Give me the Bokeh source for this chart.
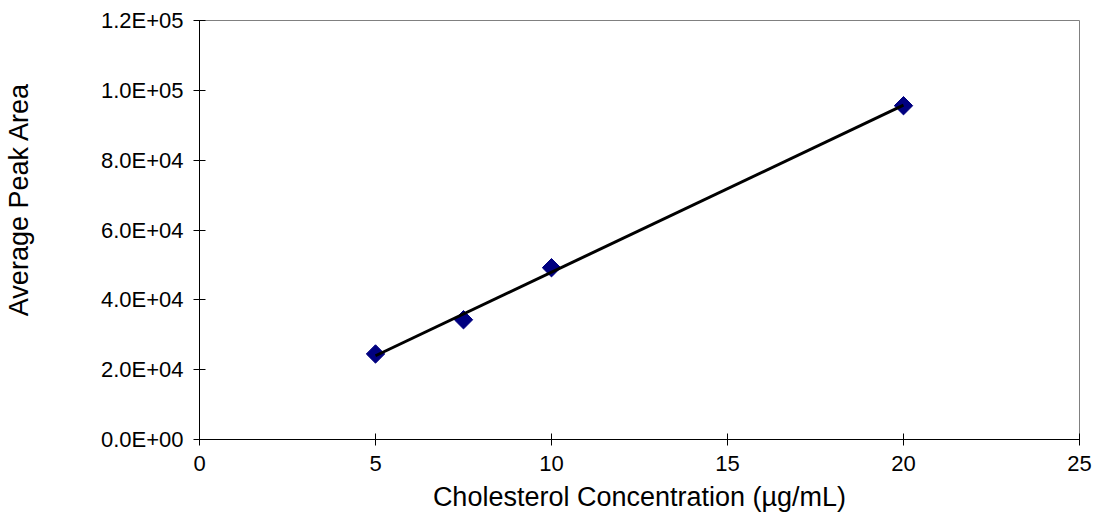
import numpy as np
from bokeh.plotting import figure
from bokeh.models import Range1d, FixedTicker, Title
from bokeh.embed import file_html
from bokeh.resources import INLINE

# Data
concentration = [5.0, 7.5, 10.0, 20.0]
peak_area = [24500, 34300, 49200, 95600]

x_ticks = [0, 5, 10, 15, 20, 25]
y_ticks = [0, 20000, 40000, 60000, 80000, 100000, 120000]
y_tick_labels = ["0.0E+00", "2.0E+04", "4.0E+04", "6.0E+04", "8.0E+04", "1.0E+05", "1.2E+05"]

x_title = "Cholesterol Concentration (µg/mL)"
y_title = "Average Peak Area"

# linear trendline from data
slope, intercept = np.polyfit(concentration, peak_area, 1)
trend_x = [min(concentration), max(concentration)]
trend_y = [slope * v + intercept for v in trend_x]

p = figure(width=1095, height=522, output_backend="svg", toolbar_location=None,
           x_range=Range1d(0, 25), y_range=Range1d(0, 120000),
           min_border_left=199, min_border_right=16, min_border_top=20, min_border_bottom=83)

p.background_fill_color = "white"
p.border_fill_color = "white"
p.outline_line_color = "#808080"
p.outline_line_width = 1
p.xgrid.grid_line_color = None
p.ygrid.grid_line_color = None

font = "Liberation Sans"
for ax in (p.xaxis[0], p.yaxis[0]):
    ax.axis_line_color = "black"
    ax.axis_line_width = 1
    ax.major_tick_line_color = "black"
    ax.major_tick_in = 6
    ax.major_tick_out = 6
    ax.minor_tick_line_color = None
    ax.major_label_text_font = font
    ax.major_label_text_font_size = "22px"
    ax.major_label_text_color = "black"
    ax.axis_label_text_font = font
    ax.axis_label_text_font_size = "27px"
    ax.axis_label_text_font_style = "normal"
    ax.axis_label_text_color = "black"

yaxis = p.yaxis[0]
p.xaxis.ticker = FixedTicker(ticks=x_ticks)
yaxis.ticker = FixedTicker(ticks=y_ticks)
yaxis.major_label_overrides = {float(t): lab for t, lab in zip(y_ticks, y_tick_labels)}
p.xaxis.axis_label = x_title
p.xaxis.major_label_standoff = 10
yaxis.major_label_standoff = 10
p.xaxis.axis_label_standoff = 8

# blank, tiny y-axis label used only as spacing so the side title sits at the far left
yaxis.axis_label = " "
yaxis.axis_label_text_font_size = "1px"
yaxis.axis_label_standoff = 56

# y-axis title as a side title, shifted upward like the reference
ytitle = Title(text=y_title, align="right", offset=62, vertical_align="top", standoff=4,
               text_font=font, text_font_size="27px", text_font_style="normal",
               text_color="black")
p.add_layout(ytitle, "left")

p.scatter(concentration, peak_area, marker="square", size=13, angle=np.pi / 4,
          fill_color="#000080", line_color="#000080")
p.line(trend_x, trend_y, line_color="black", line_width=3)

open("out.html", "w").write(file_html(p, INLINE))
